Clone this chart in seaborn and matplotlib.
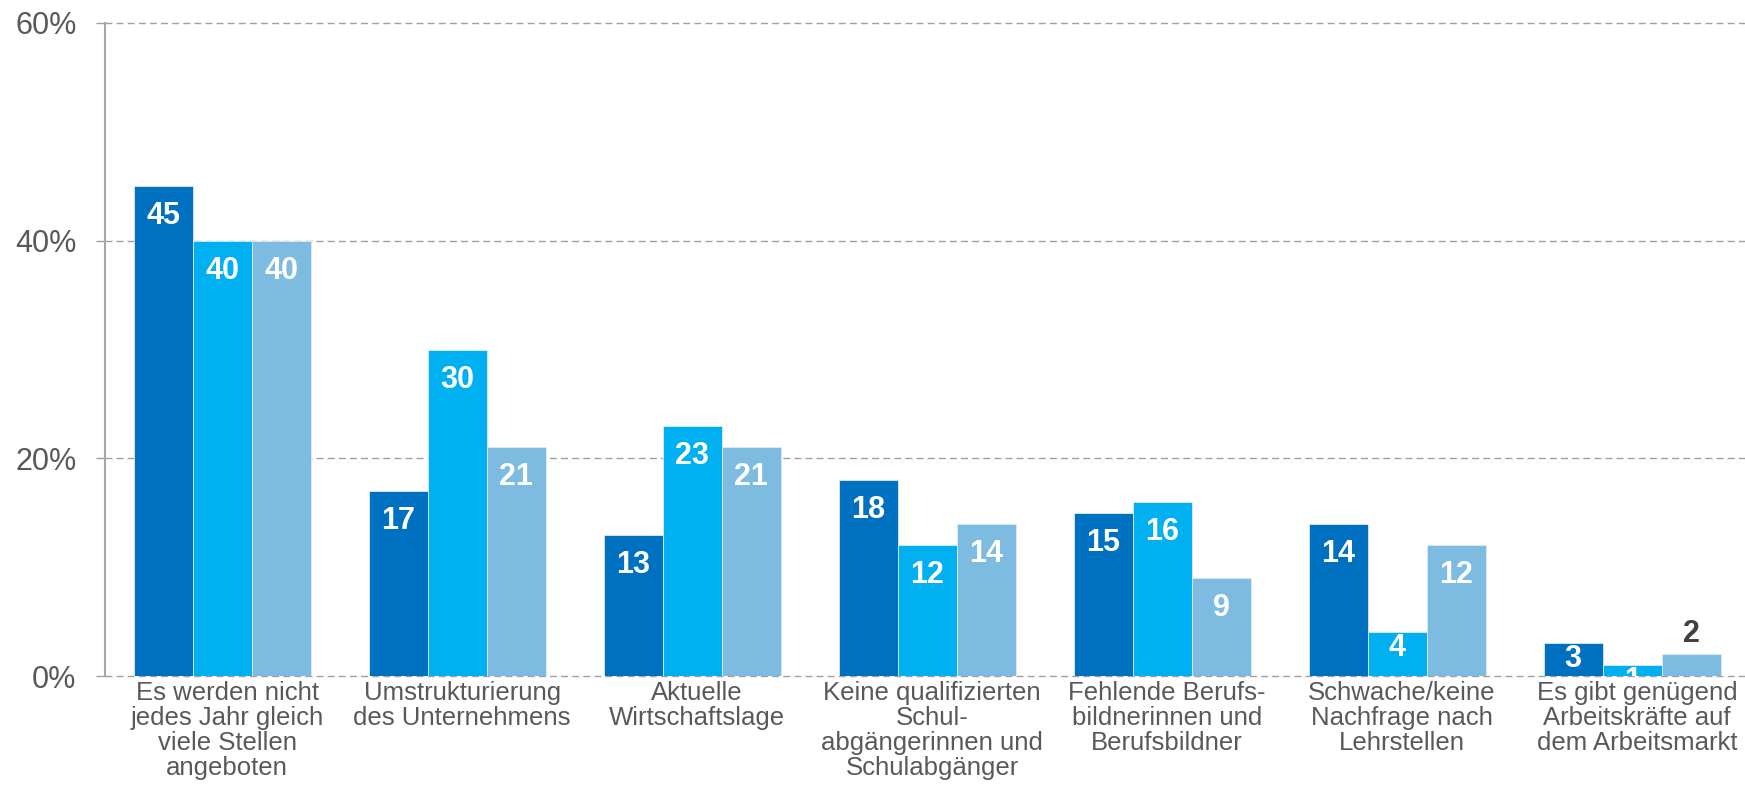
import matplotlib
matplotlib.use("Agg")
import matplotlib.pyplot as plt
import seaborn as sns
import pandas as pd

categories = [
    "Es werden nicht\njedes Jahr gleich\nviele Stellen\nangeboten",
    "Umstrukturierung\ndes Unternehmens",
    "Aktuelle\nWirtschaftslage",
    "Keine qualifizierten\nSchul-\nabgängerinnen und\nSchulabgänger",
    "Fehlende Berufs-\nbildnerinnen und\nBerufsbildner",
    "Schwache/keine\nNachfrage nach\nLehrstellen",
    "Es gibt genügend\nArbeitskräfte auf\ndem Arbeitsmarkt",
]
series_names = ["Serie 1", "Serie 2", "Serie 3"]
series1 = [45, 17, 13, 18, 15, 14, 3]
series2 = [40, 30, 23, 12, 16, 4, 1]
series3 = [40, 21, 21, 14, 9, 12, 2]
y_ticks = [0, 20, 40, 60]
y_tick_labels = ["0%", "20%", "40%", "60%"]

colors = ["#0070C0", "#00B0F0", "#7DBBE0"]

rows = []
for name, vals in zip(series_names, [series1, series2, series3]):
    for c, v in zip(categories, vals):
        rows.append({"Kategorie": c, "Serie": name, "Wert": v})
df = pd.DataFrame(rows)

sns.set_theme(style="white")
plt.rcParams["font.family"] = ["Liberation Sans", "DejaVu Sans"]

fig = plt.figure(figsize=(17.45, 7.87), dpi=100)
ax = fig.add_axes([105 / 1745, 1 - 676 / 787, 1 - 105 / 1745, (676 - 23) / 787])

sns.barplot(data=df, x="Kategorie", y="Wert", hue="Serie", order=categories,
            hue_order=series_names, palette=colors, width=0.753,
            saturation=1, linewidth=0.6, edgecolor="#DDEBF7", legend=False, ax=ax)

ax.set_xlim(-0.5, 6.48)
ax.set_ylim(0, 60)
ax.set_yticks(y_ticks)
ax.set_yticklabels(y_tick_labels)
ax.set_xlabel("")
ax.set_ylabel("")

ax.set_axisbelow(True)
ax.yaxis.grid(True, color="#A0A0A0", linestyle=(0, (5, 3)), linewidth=1.0)
for gl in ax.yaxis.get_gridlines():
    gl.set_clip_on(False)
ax.xaxis.grid(False)

for s in ["top", "right", "bottom"]:
    ax.spines[s].set_visible(False)
ax.spines["left"].set_color("#A6A6A6")
ax.spines["left"].set_linewidth(1.5)

ax.tick_params(axis="y", which="both", left=True, length=6.5, width=1.0,
               color="#A0A0A0", pad=14, labelsize=22, labelcolor="#595959")
ax.tick_params(axis="x", bottom=False, labelbottom=False)

# category labels (drawn as texts for line-spacing control)
for i, c in enumerate(categories):
    ax.annotate(c, xy=(i + 0.02, 0), xycoords=("data", "axes fraction"),
                xytext=(0, -5), textcoords="offset pixels",
                ha="center", va="top", multialignment="center",
                fontsize=18.5, color="#595959", linespacing=1.05,
                annotation_clip=False)

# value labels
outside = {(2, 6)}
for si, cont in enumerate(ax.containers):
    for ci, bar in enumerate(cont):
        v = bar.get_height()
        xc = bar.get_x() + bar.get_width() / 2
        if (si, ci) in outside:
            ax.annotate(f"{int(v)}", xy=(xc, v), xytext=(0, 20),
                        textcoords="offset pixels", ha="center", va="center",
                        fontsize=22, fontweight="bold", color="#404040")
        else:
            off = -30 if v >= 5 else -15.5
            t = ax.annotate(f"{int(v)}", xy=(xc, v), xytext=(0, off),
                            textcoords="offset pixels", ha="center", va="center",
                            fontsize=22, fontweight="bold", color="white")
            t.set_clip_on(True)
            t.set_clip_path(bar)

fig.savefig("out.png", dpi=100)
